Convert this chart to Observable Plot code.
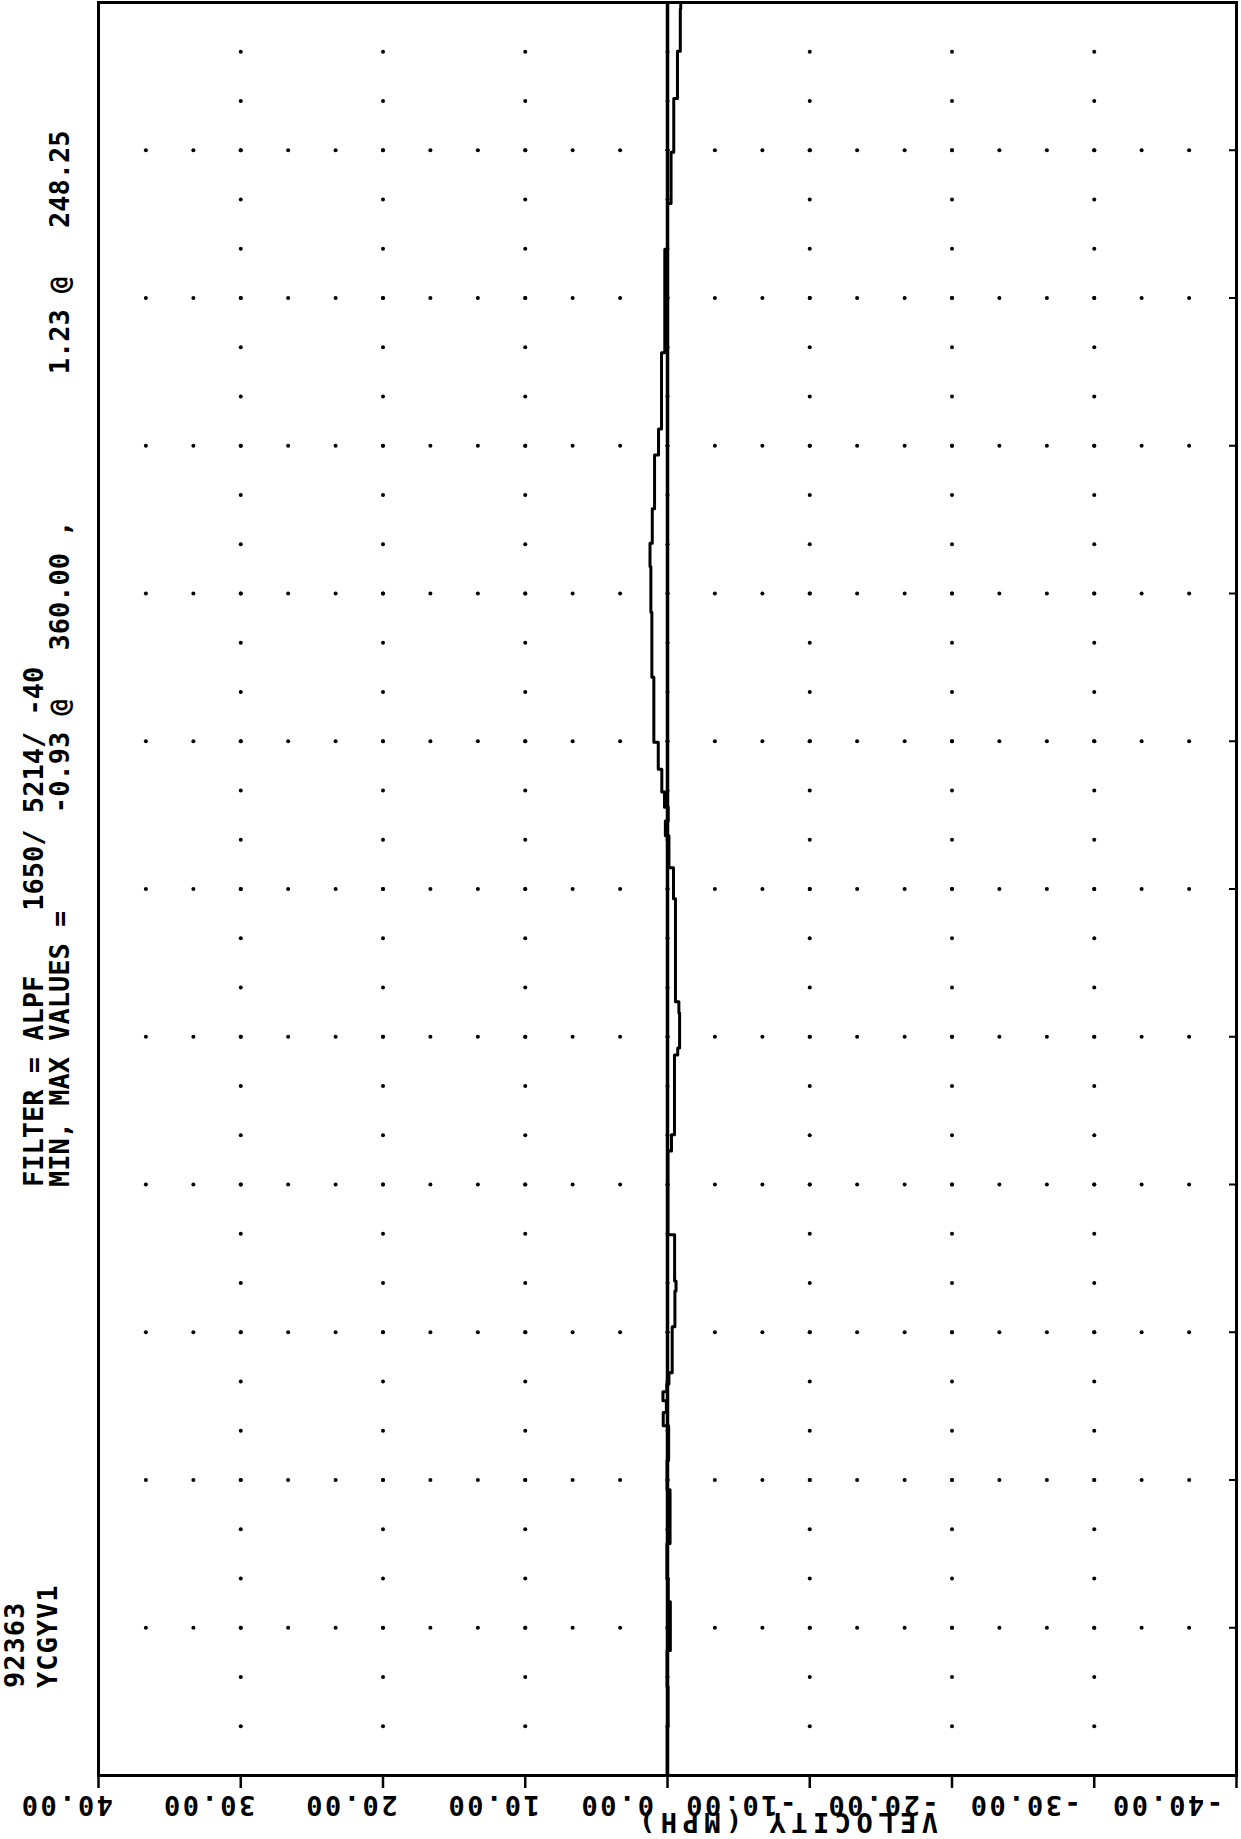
<!DOCTYPE html>
<html><head><meta charset="utf-8">
<script src="https://cdn.jsdelivr.net/npm/d3@7"></script>
<script src="https://cdn.jsdelivr.net/npm/@observablehq/plot@0.6"></script>
<style>
html,body{margin:0;padding:0;background:#fff;}
#chart{position:relative;width:1241px;height:1839px;overflow:hidden;}
svg text{font-family:"DejaVu Sans Mono",monospace;}
</style></head><body><div id="chart"></div>
<script>
// ---- axis ticks ----
const velocityTicks = [40, 30, 20, 10, 0, -10, -20, -30, -40];
const velocityTickLabels = ["40.00", "30.00", "20.00", "10.00", "0.00", "-10.00", "-20.00", "-30.00", "-40.00"];
const velocityMajor = [30, 20, 10, 0, -10, -20, -30];
const velocityMinor = [36.67, 33.33, 30, 26.67, 23.33, 20, 16.67, 13.33, 10, 6.67, 3.33, 0,
  -3.33, -6.67, -10, -13.33, -16.67, -20, -23.33, -26.67, -30, -33.33, -36.67];
const timeMajor = [30, 60, 90, 120, 150, 180, 210, 240, 270, 300, 330];
const timeMinor = [10, 20, 30, 40, 50, 60, 70, 80, 90, 100, 110, 120, 130, 140, 150, 160, 170, 180,
  190, 200, 210, 220, 230, 240, 250, 260, 270, 280, 290, 300, 310, 320, 330, 340, 350];

// ---- velocity trace: piecewise-constant segments (time breakpoints, velocity per segment) ----
const traceTime = [0, 10, 18, 25.4, 35.3, 40, 47.1, 58, 64, 71, 73.7, 76.1, 77.9, 79.5, 81.8, 91.1,
  98.4, 100.4, 109.8, 126.8, 130.1, 146.3, 147.7, 154.8, 157.1, 178.0, 184.3, 190.8, 193.8, 196.6,
  199.7, 204.3, 209.8, 223.0, 236.2, 245.5, 250.2, 257.2, 268.1, 273.4, 288.9, 309.9, 319.2, 329.6,
  340.5, 350.1, 358.7, 360];
const traceVelocity = [0.02, -0.04, 0.03, -0.2, -0.05, 0.04, -0.18, 0.03, -0.08, 0.3, 0.08, 0.32, 0.05,
  -0.1, -0.33, -0.52, -0.6, -0.5, -0.03, -0.28, -0.49, -0.72, -0.85, -0.8, -0.56, -0.42, -0.1, 0.15,
  -0.05, 0.21, 0.4, 0.65, 0.96, 1.1, 1.17, 1.23, 1.07, 0.91, 0.63, 0.42, 0.19, 0.0, -0.25, -0.44,
  -0.7, -0.9, -0.93];

const headerLine1 = "FILTER = ALPF    1650/ 5214/ -40";
const headerLine2 = "MIN, MAX VALUES =      -0.93 @   360.00 ,         1.23 @   248.25";
const idLine1 = "92363";
const idLine2 = "YCGYV1";
const xTitle = "VELOCITY (MPH)";

// build tables
const tracePts = [];
traceVelocity.forEach((v, i) => {
  tracePts.push({t: traceTime[i], v});
  tracePts.push({t: traceTime[i + 1], v});
});
const gridDots = [];
timeMajor.forEach(t => velocityMinor.forEach(v => gridDots.push({t, v})));
velocityMajor.forEach(v => timeMinor.forEach(t => gridDots.push({t, v})));

const FONT = "DejaVu Sans Mono";
const plot = Plot.plot({
  width: 1241, height: 1839,
  marginLeft: 98, marginRight: 5, marginTop: 2, marginBottom: 64,
  x: {domain: [40, -40], axis: null},
  y: {domain: [0, 360], axis: null},
  style: {background: "white", color: "black", overflow: "visible"},
  marks: [
    Plot.dot(gridDots, {x: "v", y: "t", r: 2, fill: "black", stroke: null}),
    Plot.ruleX([0], {stroke: "black", strokeWidth: 3.5}),
    Plot.line(tracePts, {x: "v", y: "t", stroke: "black", strokeWidth: 3, curve: "linear"}),
    Plot.frame({stroke: "black", strokeWidth: 3}),
    Plot.axisX(velocityTicks, {anchor: "bottom", tickSize: 13, strokeWidth: 2.5, tickFormat: () => "", label: null}),
    Plot.axisY(timeMajor, {anchor: "right", tickSize: -8, strokeWidth: 2, tickFormat: () => "", label: null})
  ]
});
document.getElementById("chart").appendChild(plot);

const svg = d3.select(plot);
function addText(str, x, y, rot, spacing) {
  svg.append("text")
    .attr("transform", `translate(${x},${y}) rotate(${rot})`)
    .attr("text-anchor", "start")
    .attr("font-family", FONT).attr("font-size", 27).attr("font-weight", "bold")
    .attr("letter-spacing", spacing || 0)
    .attr("fill", "black").attr("xml:space", "preserve").style("white-space", "pre")
    .text(str);
}
// upside-down tick labels placed through the plot's x scale
const xs = plot.scale("x");
velocityTicks.forEach((v, i) => {
  const x = xs.apply(v) + (v > 0 ? 15 : -13);
  addText(velocityTickLabels[i], x, 1796, 180, 2.5);
});
addText(xTitle, 938, 1813, 180, 5.5);
addText(headerLine1, 43, 1187, -90);
addText(headerLine2, 69, 1187, -90);
addText(idLine1, 24, 1688, -90, 1);
addText(idLine2, 57, 1688, -90, 1);
</script></body></html>
